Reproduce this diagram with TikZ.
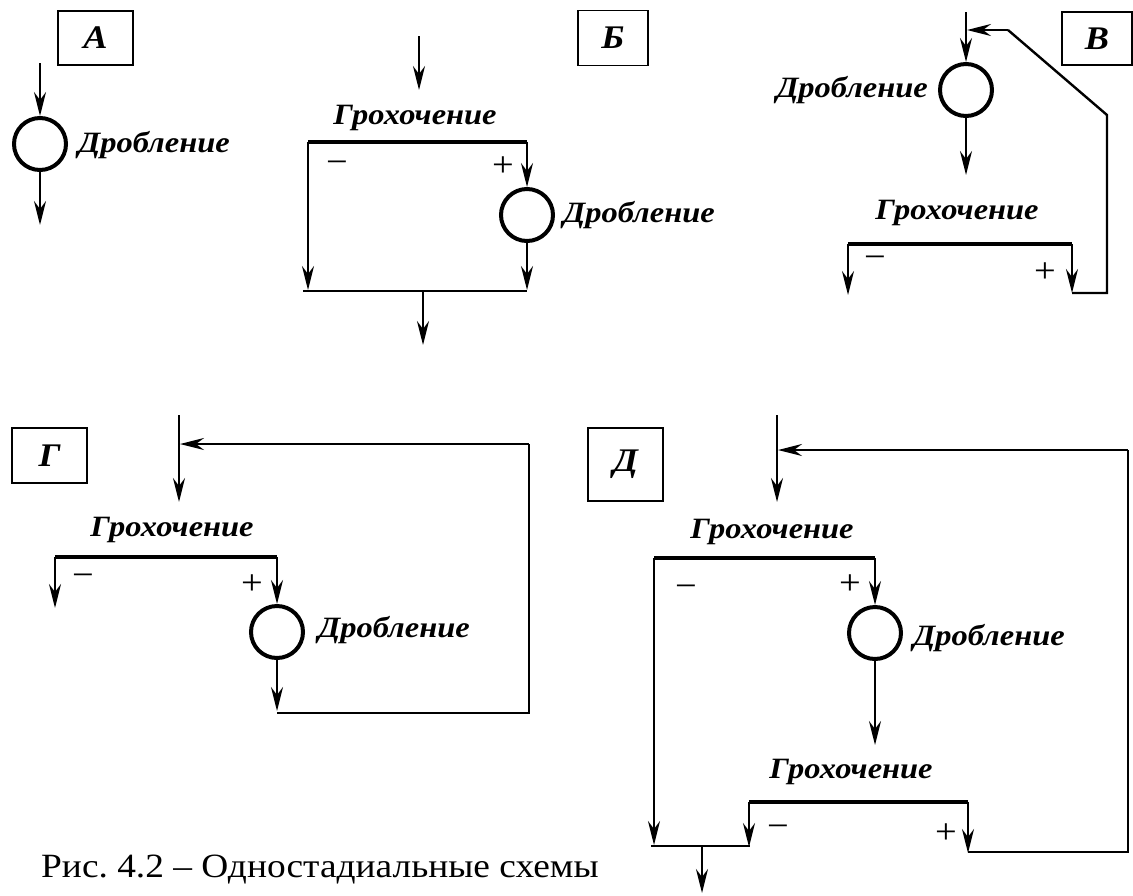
\documentclass[tikz,border=0pt]{standalone}
\usepackage{fontspec}
\setmainfont{Liberation Serif}[FakeStretch=1.1]
\usetikzlibrary{arrows.meta}
\frenchspacing
\begin{document}
\begin{tikzpicture}[x=1pt,y=-1pt,
 ln/.style={line width=2.4pt},
 arr/.style={line width=2.4pt,-{Stealth[length=24pt,width=12pt,inset=8pt]}},
 scr/.style={line width=4.5pt},
 crusher/.style={circle,draw,line width=4pt,minimum size=52pt,inner sep=0pt},
 lbl/.style={font=\fontsize{29.5}{32}\selectfont\bfseries\itshape,inner sep=0pt},
 sgn/.style={font=\fontsize{35}{35}\selectfont,inner sep=0pt},
 tag/.style={draw,line width=1.6pt,inner sep=0pt,font=\fontsize{33}{33}\selectfont\bfseries\itshape}
]
\useasboundingbox (0,0) rectangle (1133,895);

% ---------- A ----------
\node[tag,minimum width=75pt,minimum height=54pt] (tA) at (95.5,38) {А};
\coordinate (aIn) at (40,63);
\node[crusher] (aC) at (40,144) {};
\coordinate (aOut) at (40,225);
\draw[arr] (aIn) -- (aC.north);
\draw[arr] (aC.south) -- (aOut);
\node[lbl,anchor=west] (aL) at (78,145) {Дробление};

% ---------- Б ----------
\node[tag,minimum width=70pt,minimum height=55pt] (tB) at (613,38) {Б};
\coordinate (bIn) at (419,36); \coordinate (bInE) at (419,90);
\draw[arr] (bIn) -- (bInE);
\node[lbl] (bG) at (415,118) {Грохочение};
\coordinate (bS1) at (308,142); \coordinate (bS2) at (527,142);
\draw[scr] (bS1) -- (bS2);
\coordinate (bM) at (308,290);
\draw[arr] (bS1) -- (bM);
\node[sgn] (bMinus) at (337,167) {−};
\node[sgn] (bPlus) at (503,167) {+};
\node[crusher] (bC) at (527,215) {};
\draw[arr] (bS2) -- (bC.north);
\node[lbl,anchor=west] (bL) at (563,215) {Дробление};
\coordinate (bJ1) at (303,291); \coordinate (bJ2) at (527,291);
\coordinate (bJa) at (527,290);
\draw[arr] (bC.south) -- (bJa);
\draw[ln] (bJ1) -- (bJ2);
\coordinate (bO1) at (423,291); \coordinate (bO2) at (423,345);
\draw[arr] (bO1) -- (bO2);

% ---------- В ----------
\node[tag,minimum width=70pt,minimum height=53pt] (tV) at (1097,38.5) {В};
\coordinate (vIn) at (966,12);
\node[crusher] (vC) at (966,90) {};
\draw[arr] (vIn) -- (vC.north);
\coordinate (vR0) at (1008,30); \coordinate (vR1) at (1107,115);
\coordinate (vR2) at (1107,293); \coordinate (vR3) at (1072,293);
\coordinate (vRt) at (967,30);
\draw[ln] (vR3) -- (vR2) -- (vR1) -- (vR0);
\draw[arr] (vR0) -- (vRt);
\node[lbl,anchor=east] (vL) at (928,90) {Дробление};
\coordinate (vO) at (966,175);
\draw[arr] (vC.south) -- (vO);
\node[lbl] (vG) at (957,213) {Грохочение};
\coordinate (vS1) at (848,244); \coordinate (vS2) at (1072,244);
\draw[scr] (vS1) -- (vS2);
\coordinate (vM) at (848,295); \coordinate (vP) at (1072,293);
\draw[arr] (vS1) -- (vM);
\draw[arr] (vS2) -- (vP);
\node[sgn] (vMinus) at (875,262) {−};
\node[sgn] (vPlus) at (1045,273) {+};

% ---------- Г ----------
\node[tag,minimum width=75pt,minimum height=55pt] (tG) at (49.5,455.5) {Г};
\coordinate (gIn) at (179,415); \coordinate (gInE) at (179,502);
\draw[arr] (gIn) -- (gInE);
\coordinate (gR0) at (529,444); \coordinate (gR1) at (529,713);
\coordinate (gR2) at (277,713); \coordinate (gRt) at (180,444);
\draw[ln] (gR2) -- (gR1) -- (gR0);
\draw[arr] (gR0) -- (gRt);
\node[lbl] (gG) at (172,530) {Грохочение};
\coordinate (gS1) at (55,557); \coordinate (gS2) at (277,557);
\draw[scr] (gS1) -- (gS2);
\coordinate (gM) at (55,608);
\draw[arr] (gS1) -- (gM);
\node[sgn] (gMinus) at (83,580) {−};
\node[sgn] (gPlus) at (252,585) {+};
\node[crusher] (gC) at (277,632) {};
\draw[arr] (gS2) -- (gC.north);
\node[lbl,anchor=west] (gL) at (318,630) {Дробление};
\coordinate (gA) at (277,711);
\draw[arr] (gC.south) -- (gA);

% ---------- Д ----------
\node[tag,minimum width=75pt,minimum height=73pt] (tD) at (625.5,464.5) {Д};
\coordinate (dIn) at (777,415); \coordinate (dInE) at (777,502);
\draw[arr] (dIn) -- (dInE);
\coordinate (dR0) at (1128,450); \coordinate (dR1) at (1128,852);
\coordinate (dR2) at (968,852); \coordinate (dRt) at (778,450);
\draw[ln] (dR2) -- (dR1) -- (dR0);
\draw[arr] (dR0) -- (dRt);
\node[lbl] (dG1) at (772,532) {Грохочение};
\coordinate (dS1) at (654,558); \coordinate (dS2) at (875,558);
\draw[scr] (dS1) -- (dS2);
\coordinate (dM) at (654,845);
\draw[arr] (dS1) -- (dM);
\node[sgn] (dMinus1) at (686,591) {−};
\node[sgn] (dPlus1) at (850,585) {+};
\node[crusher] (dC) at (875,633) {};
\draw[arr] (dS2) -- (dC.north);
\node[lbl,anchor=west] (dL) at (913,638) {Дробление};
\coordinate (dCo) at (875,745);
\draw[arr] (dC.south) -- (dCo);
\node[lbl] (dG2) at (851,772) {Грохочение};
\coordinate (dT1) at (749,802); \coordinate (dT2) at (968,802);
\draw[scr] (dT1) -- (dT2);
\coordinate (dTm) at (749,847); \coordinate (dTp) at (968,853);
\draw[arr] (dT1) -- (dTm);
\draw[arr] (dT2) -- (dTp);
\node[sgn] (dMinus2) at (778,831) {−};
\node[sgn] (dPlus2) at (946,834) {+};
\coordinate (dJ1) at (651,846); \coordinate (dJ2) at (750,846);
\draw[ln] (dJ1) -- (dJ2);
\coordinate (dO1) at (702,846); \coordinate (dO2) at (702,893);
\draw[arr] (dO1) -- (dO2);

% ---------- caption ----------
\node[anchor=base west,inner sep=0pt,font=\fontsize{34}{36}\selectfont] (cap) at (41,877) {Рис. 4.2 – Одностадиальные схемы};
\end{tikzpicture}
\end{document}
